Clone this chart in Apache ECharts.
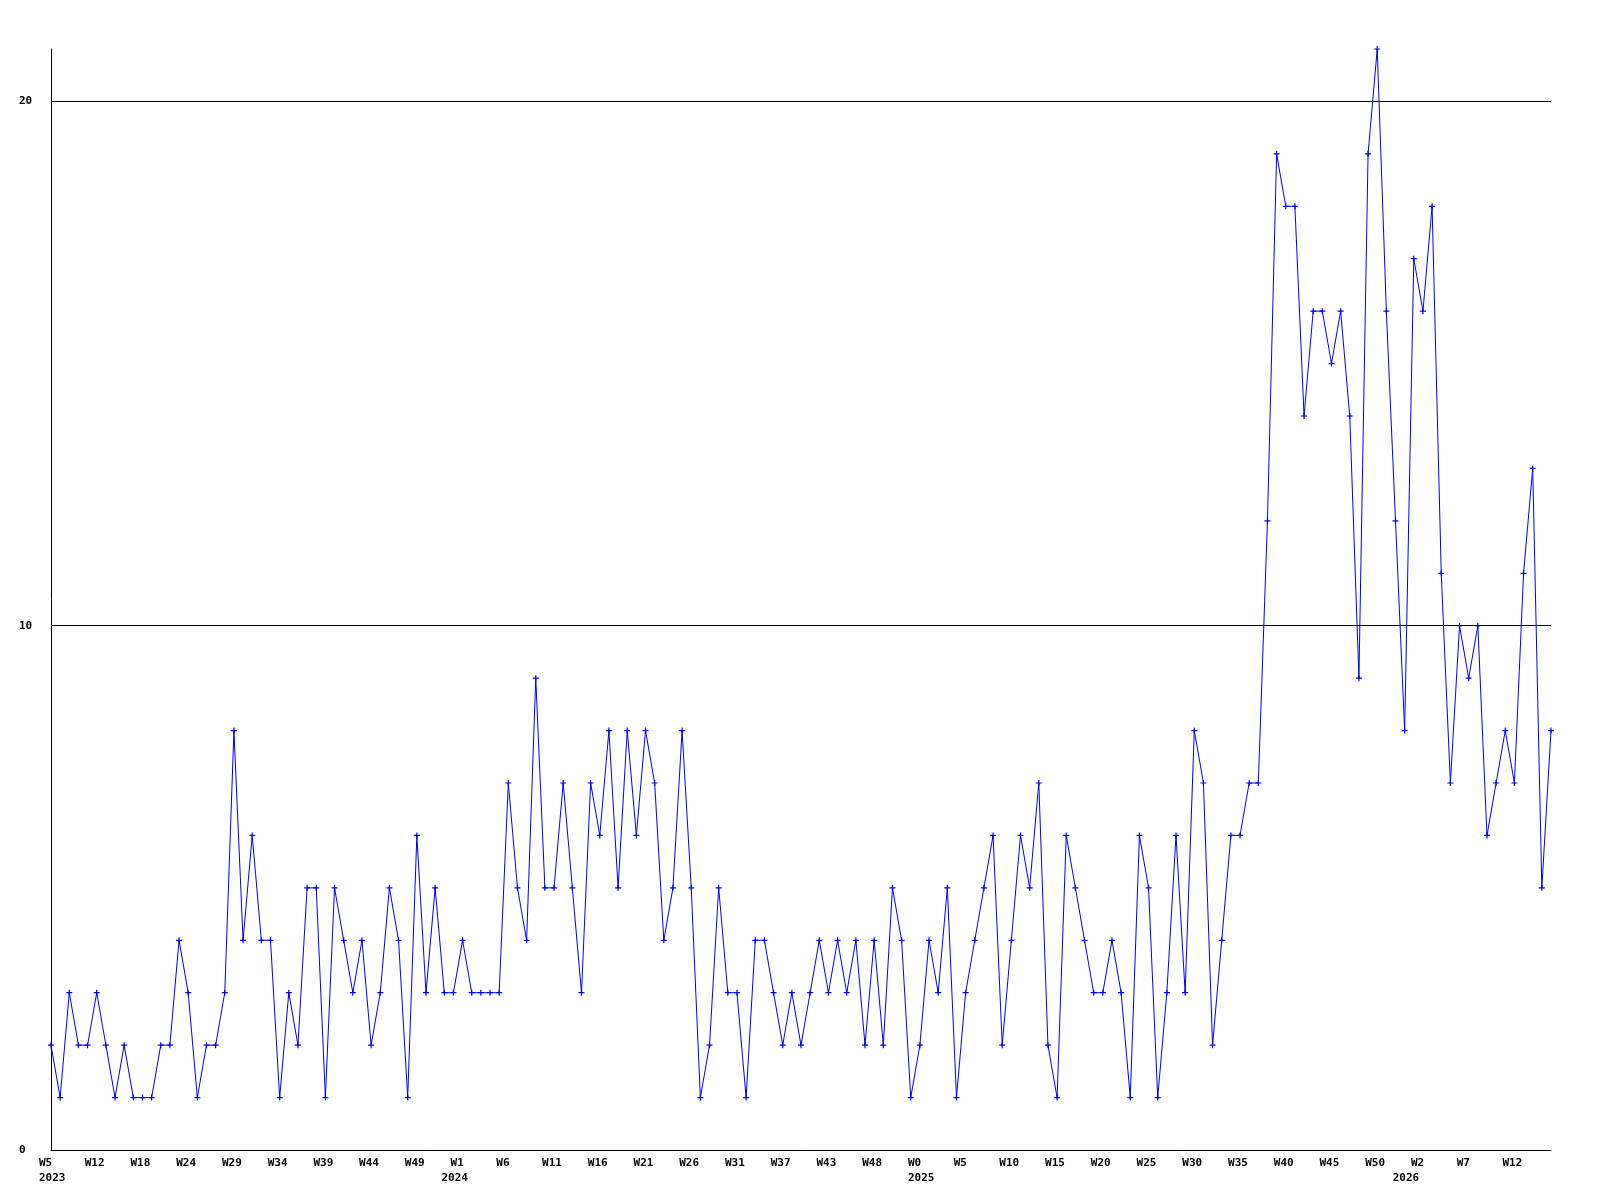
<!DOCTYPE html>
<html>
<head>
<meta charset="utf-8">
<style>
html,body{margin:0;padding:0;background:#fff;}
#chart{width:1600px;height:1200px;}
</style>
<script src="https://cdn.jsdelivr.net/npm/echarts@6/dist/echarts.min.js"></script>
</head>
<body>
<div id="chart"></div>
<script>
// Week tick labels, shown every 5th point
var weekLabels = ["W5","W12","W18","W24","W29","W34","W39","W44","W49","W1","W6","W11","W16","W21","W26","W31","W37","W43","W48","W0","W5","W10","W15","W20","W25","W30","W35","W40","W45","W50","W2","W7","W12"];
// Year labels and the point index where each one starts
var yearLabels = ["2023", "2024", "2025", "2026"];
var yearStartIndex = [0, 44, 95, 148];
// Weekly values
var values = [
  2,1,3,2,2,3,2,1,2,1,
  1,1,2,2,4,3,1,2,2,3,
  8,4,6,4,4,1,3,2,5,5,
  1,5,4,3,4,2,3,5,4,1,
  6,3,5,3,3,4,3,3,3,3,
  7,5,4,9,5,5,7,5,3,7,
  6,8,5,8,6,8,7,4,5,8,
  5,1,2,5,3,3,1,4,4,3,
  2,3,2,3,4,3,4,3,4,2,
  4,2,5,4,1,2,4,3,5,1,
  3,4,5,6,2,4,6,5,7,2,
  1,6,5,4,3,3,4,3,1,6,
  5,1,3,6,3,8,7,2,4,6,
  6,7,7,12,19,18,18,14,16,16,
  15,16,14,9,19,21,16,12,8,17,
  16,18,11,7,10,9,10,6,7,8,
  7,11,13,5,8
];
var gridValues = [10, 20];
var yMax = 21;

var weekCats = [];
var yearCats = [];
for (var i = 0; i < values.length; i++) {
  weekCats.push(i % 5 === 0 && weekLabels[i / 5] !== undefined ? weekLabels[i / 5] : '');
  var yi = yearStartIndex.indexOf(i);
  yearCats.push(yi >= 0 ? yearLabels[yi] : '');
}

var font = '"DejaVu Sans Mono", "Liberation Mono", monospace';
function richLabel(v) { return v === '' ? '' : '{a|' + v + '}'; }
var richStyle = {a: {width: 24, align: 'left', fontFamily: font, fontWeight: 'bold', fontSize: 11, lineHeight: 15, color: '#000'}};

var chart = echarts.init(document.getElementById('chart'), null, {renderer: 'canvas'});
chart.setOption({
  animation: false,
  backgroundColor: '#ffffff',
  grid: {left: 51, right: 49, top: 49, bottom: 50, containLabel: false},
  xAxis: [{
    type: 'category',
    data: weekCats,
    boundaryGap: false,
    axisLine: {show: true, lineStyle: {color: '#000', width: 1}},
    axisTick: {show: false},
    splitLine: {show: false},
    axisLabel: {
      interval: 0,
      margin: 6,
      align: 'center',
      color: '#000',
      fontFamily: font,
      fontWeight: 'bold',
      fontSize: 11,
      formatter: richLabel,
      rich: richStyle
    }
  }, {
    type: 'category',
    data: yearCats,
    position: 'bottom',
    boundaryGap: false,
    axisLine: {show: false},
    axisTick: {show: false},
    splitLine: {show: false},
    axisLabel: {
      interval: 0,
      margin: 21,
      align: 'center',
      color: '#000',
      fontFamily: font,
      fontWeight: 'bold',
      fontSize: 11,
      formatter: richLabel,
      rich: richStyle
    }
  }],
  yAxis: {
    type: 'value',
    min: 0,
    max: yMax,
    interval: 10,
    axisLine: {show: true, lineStyle: {color: '#000', width: 1}},
    axisTick: {show: false},
    splitLine: {show: false},
    axisLabel: {
      showMaxLabel: false,
      align: 'left',
      margin: 32,
      color: '#000',
      fontFamily: font,
      fontWeight: 'bold',
      fontSize: 11
    }
  },
  series: [{
    type: 'line',
    xAxisIndex: 0,
    data: values,
    symbol: 'path://M2,0H3V2H5V3H3V5H2V3H0V2H2Z',
    symbolSize: 6,
    showAllSymbol: true,
    lineStyle: {color: '#0000ff', width: 1},
    itemStyle: {color: '#0000ff'},
    clip: false,
    markLine: {
      silent: true,
      symbol: ['none', 'none'],
      label: {show: false},
      lineStyle: {color: '#000', type: 'solid', width: 1},
      data: gridValues.map(function (v) { return {yAxis: v}; })
    }
  }]
});
</script>
</body>
</html>
